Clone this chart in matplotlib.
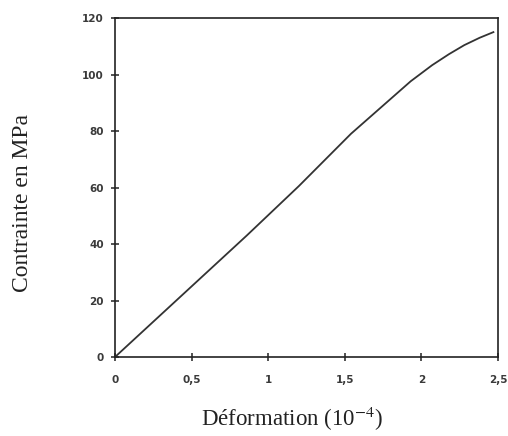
import matplotlib
matplotlib.use("Agg")
import matplotlib.pyplot as plt

# Data
strain = [0, 0.42, 0.86, 1.20, 1.54, 1.93, 2.07, 2.18, 2.28, 2.38, 2.47]
stress = [0, 21.0, 43.0, 60.5, 79.0, 97.6, 103.3, 107.2, 110.4, 113.0, 115.0]

x_ticks = [0, 0.5, 1, 1.5, 2, 2.5]
x_tick_labels = ["0", "0,5", "1", "1,5", "2", "2,5"]
y_ticks = [0, 20, 40, 60, 80, 100, 120]
y_tick_labels = ["0", "20", "40", "60", "80", "100", "120"]

plt.rcParams["mathtext.fontset"] = "stix"

fig = plt.figure(figsize=(5.08, 4.36), dpi=100)
ax = fig.add_axes([115 / 508, 1 - 357 / 436, 383 / 508, 339 / 436])

ax.plot(strain, stress, color="#333333", lw=1.3)

ax.set_xlim(0, 2.5)
ax.set_ylim(0, 120)
ax.set_xticks(x_ticks)
ax.set_xticklabels(x_tick_labels)
ax.set_yticks(y_ticks)
ax.set_yticklabels(y_tick_labels)

for s in ax.spines.values():
    s.set_color("#222222")
    s.set_linewidth(1.2)

ax.tick_params(axis="both", direction="inout", length=6, width=1.1,
               colors="#222222", labelsize=7.5)
ax.tick_params(axis="x", pad=10)
ax.tick_params(axis="y", pad=5)
for lab in ax.get_xticklabels() + ax.get_yticklabels():
    lab.set_fontfamily("DejaVu Sans")
    lab.set_fontweight("bold")
    lab.set_color("#3a3a3a")

fig.text(292.5 / 508, 1 - 426 / 436, "Déformation (10$^{-4}$)",
         family="Liberation Serif", fontsize=16.5, color="#222222",
         ha="center", va="baseline")
fig.text(23 / 508, 1 - 203.5 / 436, "Contrainte en MPa",
         family="Liberation Serif", fontsize=17, color="#222222",
         ha="center", va="center", rotation=90)

fig.savefig("out.png", dpi=100)
